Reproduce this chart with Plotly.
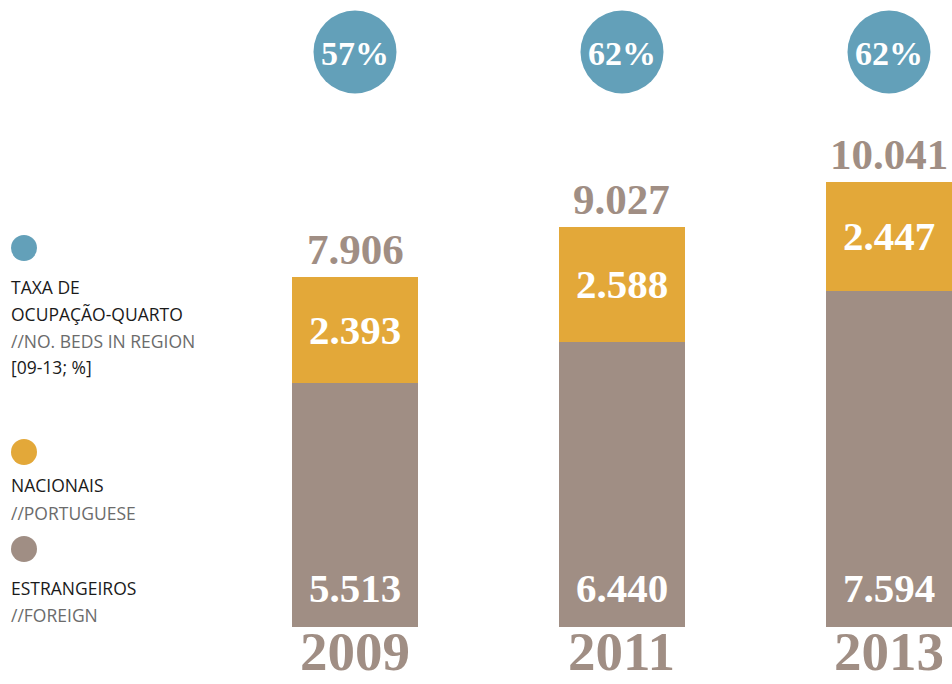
import plotly.graph_objects as go

# Hóspedes por ano (milhares de dormidas) e taxa de ocupação-quarto
years = ["2009", "2011", "2013"]
estrangeiros = [5513, 6440, 7594]
nacionais = [2393, 2588, 2447]
totais = [7906, 9027, 10041]
taxa_ocupacao = [57, 62, 62]

BLUE = "#63a0b9"
ORANGE = "#e3a839"
GRAY = "#a08e84"
SERIF = "Liberation Serif"
SANS = "Open Sans"

W, H = 952, 684


def fmt(n):
    return f"{n:,}".replace(",", ".")


xpos = list(range(len(years)))

fig = go.Figure()

fig.add_trace(go.Bar(
    x=xpos, y=estrangeiros, marker=dict(color=GRAY, line=dict(width=0)),
    width=0.472, hoverinfo="skip", showlegend=False,
))
fig.add_trace(go.Bar(
    x=xpos, y=nacionais, marker=dict(color=ORANGE, line=dict(width=0)),
    width=0.472, hoverinfo="skip", showlegend=False,
))

# occupancy bubbles along the top
fig.add_trace(go.Scatter(
    x=xpos, y=[0.924] * len(years), yaxis="y2",
    mode="markers",
    marker=dict(size=83, color=BLUE, line=dict(width=0)),
    hoverinfo="skip", showlegend=False,
))

annotations = []
for i, (yr, e, n, t, p) in enumerate(zip(years, estrangeiros, nacionais, totais, taxa_ocupacao)):
    # occupancy rate inside its bubble
    annotations.append(dict(
        x=i, y=0.924, yref="y2", yanchor="middle", yshift=-2, showarrow=False,
        text=f"{p}%", font=dict(family=SERIF, size=34, color="white", weight="bold"),
    ))
    # total above the stack
    annotations.append(dict(
        x=i, y=t, yanchor="bottom", yshift=2, showarrow=False,
        text=fmt(t), font=dict(family=SERIF, size=43, color=GRAY, weight="bold"),
    ))
    # nacionais, centred in its segment
    annotations.append(dict(
        x=i, y=e + n / 2, yanchor="middle", showarrow=False,
        text=fmt(n), font=dict(family=SERIF, size=41, color="white", weight="bold"),
    ))
    # estrangeiros, near the base
    annotations.append(dict(
        x=i, y=0, yanchor="middle", yshift=39, showarrow=False,
        text=fmt(e), font=dict(family=SERIF, size=41, color="white", weight="bold"),
    ))
    # year along the bottom edge
    annotations.append(dict(
        x=i, y=0, yref="paper", yanchor="bottom", showarrow=False,
        text=yr, font=dict(family=SERIF, size=55, color=GRAY, weight="bold"),
    ))

# hand-drawn key on the left
key_lines = [
    ("TAXA DE", 287, "#1a1a1a"),
    ("OCUPAÇÃO-QUARTO", 314, "#1a1a1a"),
    ("//NO. BEDS IN REGION", 341, "#6b6b6b"),
    ("[09-13; %]", 367, "#1a1a1a"),
    ("NACIONAIS", 485, "#1a1a1a"),
    ("//PORTUGUESE", 513, "#6b6b6b"),
    ("ESTRANGEIROS", 588, "#1a1a1a"),
    ("//FOREIGN", 615, "#6b6b6b"),
]
for txt, py, col in key_lines:
    annotations.append(dict(
        xref="paper", yref="paper", x=9 / W, y=1 - py / H,
        xanchor="left", yanchor="middle", showarrow=False,
        text=txt, font=dict(family=SANS, size=17.5, color=col),
    ))

shapes = []
for col, cy in [(BLUE, 248), (ORANGE, 452), (GRAY, 549)]:
    r = 13
    shapes.append(dict(
        type="circle", xref="paper", yref="paper",
        x0=(24 - r) / W, x1=(24 + r) / W,
        y0=1 - (cy + r) / H, y1=1 - (cy - r) / H,
        fillcolor=col, line=dict(width=0),
    ))

fig.update_layout(
    width=W, height=H,
    margin=dict(l=0, r=0, t=0, b=0),
    paper_bgcolor="white", plot_bgcolor="white",
    barmode="stack", bargap=0,
    xaxis=dict(range=[-1.3296, 2.236], visible=False, fixedrange=True),
    yaxis=dict(range=[-1286.7, 14153.5], visible=False, fixedrange=True),
    yaxis2=dict(range=[0, 1], overlaying="y", visible=False, fixedrange=True),
    annotations=annotations,
    shapes=shapes,
)

fig.write_html("out.html")
